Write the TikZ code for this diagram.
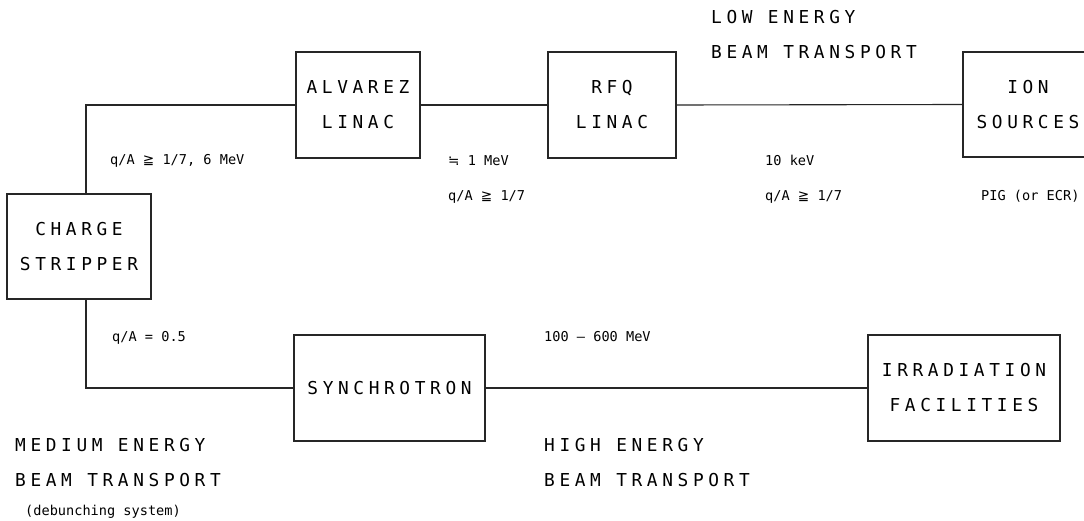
\documentclass[tikz,border=0pt]{standalone}
\usepackage{fontspec}
\newfontfamily\bigf[LetterSpace=26]{DejaVu Sans Mono}
\newfontfamily\smallf{DejaVu Sans Mono}
\newfontfamily\symf{DejaVu Sans}
\newcommand\bigfnt{\bigf\fontsize{17.8}{35}\selectfont}
\newcommand\smallfnt{\smallf\fontsize{13.6}{16}\selectfont}
\newcommand\geqqsym{{\symf ≧}}
\newcommand\approxsym{{\symf ≒}}
\tikzset{
  box/.style={draw=black!85, line width=1.1pt, inner sep=0pt, align=center, font=\bigfnt},
  big/.style={font=\bigfnt, anchor=base west, inner sep=0pt},
  small/.style={font=\smallfnt, anchor=base west, inner sep=0pt},
  wire/.style={draw=black!85, line width=1.1pt}
}
\begin{document}
\begin{tikzpicture}[x=1pt,y=-1pt]
\useasboundingbox (0,0) rectangle (1084,521);
\clip (0,0) rectangle (1084,521);
\fill[white] (0,0) rectangle (1084,521);
% boxes
\node[box, minimum width=124pt, minimum height=106pt] (alv) at (358,105) {ALVAREZ\\LINAC};
\node[box, minimum width=128pt, minimum height=106pt] (rfq) at (612,105) {RFQ\\LINAC};
\node[box, minimum width=130pt, minimum height=105pt] (ion) at (1028,104.5) {ION\\SOURCES};
\node[box, minimum width=144pt, minimum height=105pt] (strip) at (79,246.5) {CHARGE\\STRIPPER};
\node[box, minimum width=191pt, minimum height=106pt] (syn) at (389.5,388) {SYNCHROTRON};
\node[box, minimum width=192pt, minimum height=106pt] (irr) at (964,388) {IRRADIATION\\FACILITIES};
% connectors
\coordinate (kA) at (86,105);
\coordinate (kB) at (86,388);
\draw[wire] (alv.west) -- (kA) -- (kA |- strip.north);
\draw[wire] (kA |- strip.south) -- (kB) -- (syn.west);
\draw[wire] (alv.east) -- (rfq.west);
\draw[wire] (rfq.east) -- (ion.west);
\draw[wire] (syn.east) -- (irr.west);
% big labels
\node[big] (t1) at (711,23.5) {LOW ENERGY};
\node[big] (t2) at (711,58.5) {BEAM TRANSPORT};
\node[big] (t3) at (15,451) {MEDIUM ENERGY};
\node[big] (t4) at (15,486) {BEAM TRANSPORT};
\node[big] (t5) at (544,451) {HIGH ENERGY};
\node[big] (t6) at (544,486) {BEAM TRANSPORT};
% small labels
\node[small] (s1) at (110,165) {q/A \geqqsym{} 1/7, 6 MeV};
\node[small] (s2) at (448,166) {\approxsym{} 1 MeV};
\node[small] (s3) at (448,201) {q/A \geqqsym{} 1/7};
\node[small] (s4) at (765,166) {10 keV};
\node[small] (s5) at (765,201) {q/A \geqqsym{} 1/7};
\node[small] (s6) at (981,201) {PIG (or ECR)};
\node[small] (s7) at (112,341) {q/A = 0.5};
\node[small] (s8) at (544,341) {100 — 600 MeV};
\node[small] (s9) at (25,515) {(debunching system)};
\end{tikzpicture}
\end{document}
